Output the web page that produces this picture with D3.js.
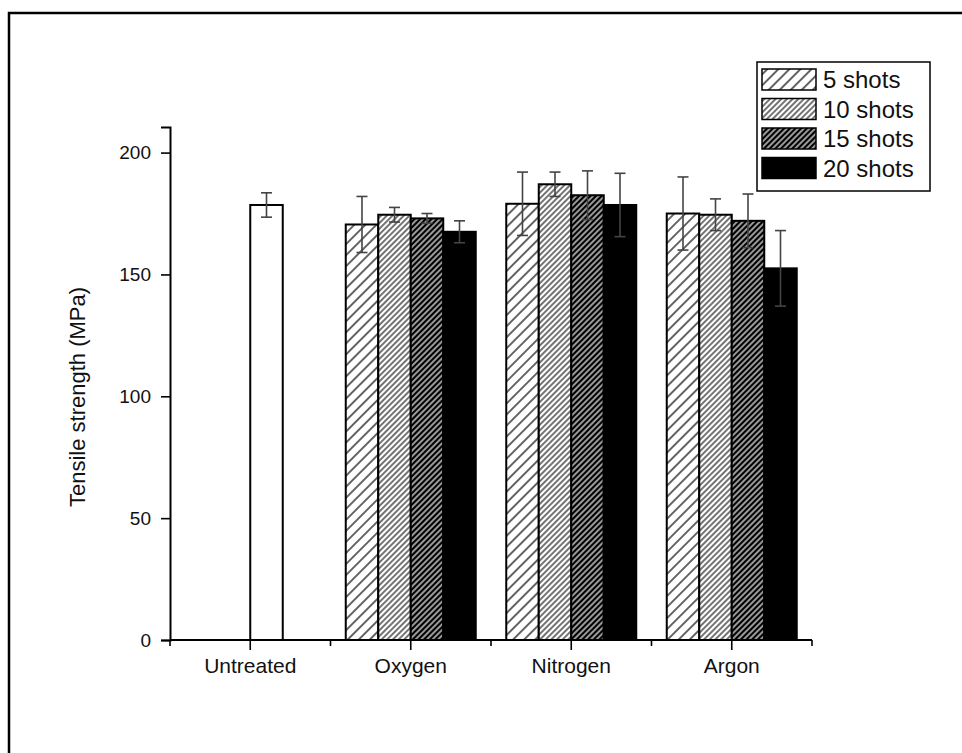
<!DOCTYPE html>
<html>
<head>
<meta charset="utf-8">
<script src="https://cdn.jsdelivr.net/npm/d3@7"></script>
<style>
  body { margin: 0; background: #fff; }
  text { font-family: "Liberation Sans", Arial, sans-serif; fill: #111; }
</style>
</head>
<body>
<div id="chart"></div>
<script>
var categories = ["Untreated", "Oxygen", "Nitrogen", "Argon"];
var series = ["5 shots", "10 shots", "15 shots", "20 shots"];

// treated groups (Oxygen, Nitrogen, Argon), one array per series
var shots5 = [170.5, 179, 175];
var shots10 = [174.5, 187, 174.5];
var shots15 = [173, 182.5, 172];
var shots20 = [167.5, 178.5, 152.5];

var err5 = [11.5, 13, 15];
var err10 = [3, 5, 6.5];
var err15 = [2, 10, 11];
var err20 = [4.5, 13, 15.5];

var untreatedValue = 178.5;
var untreatedErr = 5;

var yTicks = [0, 50, 100, 150, 200];

var width = 962,
    height = 753;

var margin = { left: 170, right: 150, top: 127, bottom: 113 };

var svg = d3.select("#chart")
    .append("svg")
    .attr("width", width)
    .attr("height", height);

// frame around the figure
svg.append("path")
    .attr("d", "M9,760 L9,13 L970,13")
    .attr("fill", "none")
    .attr("stroke", "#000")
    .attr("stroke-width", 2.5);

// hatch patterns
var defs = svg.append("defs");

function hatch(id, bg, fg, gap, lw) {
    var p = defs.append("pattern")
        .attr("id", id)
        .attr("patternUnits", "userSpaceOnUse")
        .attr("width", gap)
        .attr("height", gap)
        .attr("patternTransform", "rotate(45)");
    p.append("rect").attr("width", gap).attr("height", gap).attr("fill", bg);
    p.append("line")
        .attr("x1", gap / 2).attr("y1", -1)
        .attr("x2", gap / 2).attr("y2", gap + 1)
        .attr("stroke", fg)
        .attr("stroke-width", lw);
}
hatch("p5", "#fff", "#000", 7.8, 1.2);
hatch("p10", "#fff", "#000", 4, 1.1);
hatch("p15", "#000", "#fff", 4, 1.2);

var fills = {
    "5 shots": "url(#p5)",
    "10 shots": "url(#p10)",
    "15 shots": "url(#p15)",
    "20 shots": "#000"
};

var x0 = d3.scaleBand()
    .domain(categories)
    .range([margin.left, width - margin.right])
    .padding(0);

var x1 = d3.scaleBand()
    .domain(series)
    .range([0, 130])
    .padding(0);

var y = d3.scaleLinear()
    .domain([0, 210.5])
    .range([height - margin.bottom, margin.top]);

var values = [shots5, shots10, shots15, shots20];
var errors = [err5, err10, err15, err20];

var bars = [];
series.forEach(function (s, i) {
    categories.slice(1).forEach(function (c, j) {
        bars.push({ cat: c, series: s, value: values[i][j], err: errors[i][j], fill: fills[s] });
    });
});

function barX(d) {
    return x0(d.cat) + x0.bandwidth() / 2 - 65 + x1(d.series);
}

var all = [{ cat: "Untreated", series: "15 shots", value: untreatedValue, err: untreatedErr, fill: "#fff" }].concat(bars);

var g = svg.append("g");

g.selectAll("rect.bar")
    .data(all)
    .enter().append("rect")
    .attr("class", "bar")
    .attr("x", barX)
    .attr("y", function (d) { return y(d.value); })
    .attr("width", x1.bandwidth())
    .attr("height", function (d) { return y(0) - y(d.value); })
    .attr("fill", function (d) { return d.fill; })
    .attr("stroke", "#000")
    .attr("stroke-width", 2);

// error bars
var eb = g.selectAll("g.err")
    .data(all)
    .enter().append("g")
    .attr("class", "err")
    .attr("stroke", "#444")
    .attr("stroke-width", 1.6);

eb.append("line")
    .attr("x1", function (d) { return barX(d) + x1.bandwidth() / 2; })
    .attr("x2", function (d) { return barX(d) + x1.bandwidth() / 2; })
    .attr("y1", function (d) { return y(d.value - d.err); })
    .attr("y2", function (d) { return y(d.value + d.err); });

[-1, 1].forEach(function (sgn) {
    eb.append("line")
        .attr("x1", function (d) { return barX(d) + x1.bandwidth() / 2 - 5.5; })
        .attr("x2", function (d) { return barX(d) + x1.bandwidth() / 2 + 5.5; })
        .attr("y1", function (d) { return y(d.value + sgn * d.err); })
        .attr("y2", function (d) { return y(d.value + sgn * d.err); });
});

// y axis
var yAxis = svg.append("g")
    .attr("transform", "translate(" + margin.left + ",0)")
    .call(d3.axisLeft(y).tickValues(yTicks).tickSize(9).tickPadding(10));
yAxis.select(".domain").attr("stroke", "#000").attr("stroke-width", 2);
yAxis.selectAll(".tick line").attr("stroke", "#000").attr("stroke-width", 1.6);
yAxis.selectAll("text").style("font-size", "19px").attr("fill", "#111");

// x axis
var xAxis = svg.append("g")
    .attr("transform", "translate(0," + y(0) + ")")
    .call(d3.axisBottom(x0).tickSize(10).tickPadding(8));
xAxis.select(".domain").attr("d", "M" + margin.left + ",0H" + (width - margin.right))
    .attr("stroke", "#000").attr("stroke-width", 2);
xAxis.selectAll(".tick line").attr("stroke", "#000").attr("stroke-width", 1.6);
xAxis.selectAll("text").style("font-size", "21px").attr("fill", "#111");

// minor ticks at category boundaries
var bounds = categories.map(function (c) { return x0(c); }).concat([x0.range()[1]]);
xAxis.selectAll("line.minor")
    .data(bounds)
    .enter().append("line")
    .attr("class", "minor")
    .attr("x1", function (d) { return d; })
    .attr("x2", function (d) { return d; })
    .attr("y1", 0)
    .attr("y2", 6)
    .attr("stroke", "#000")
    .attr("stroke-width", 1.6);

// y label
svg.append("text")
    .attr("transform", "translate(85,397) rotate(-90)")
    .attr("text-anchor", "middle")
    .style("font-size", "22px")
    .text("Tensile strength (MPa)");

// legend
var legend = svg.append("g");
legend.append("rect")
    .attr("x", 757)
    .attr("y", 62)
    .attr("width", 173)
    .attr("height", 129)
    .attr("fill", "#fff")
    .attr("stroke", "#000")
    .attr("stroke-width", 1.5);

var items = legend.selectAll("g.item")
    .data(series)
    .enter().append("g")
    .attr("class", "item")
    .attr("transform", function (d, i) { return "translate(762," + (69 + i * 29.5) + ")"; });

items.append("rect")
    .attr("width", 54)
    .attr("height", 21)
    .attr("fill", function (d) { return fills[d]; })
    .attr("stroke", "#000")
    .attr("stroke-width", 1.5);

items.append("text")
    .attr("x", 61)
    .attr("y", 19)
    .style("font-size", "24px")
    .text(function (d) { return d; });
</script>
</body>
</html>
